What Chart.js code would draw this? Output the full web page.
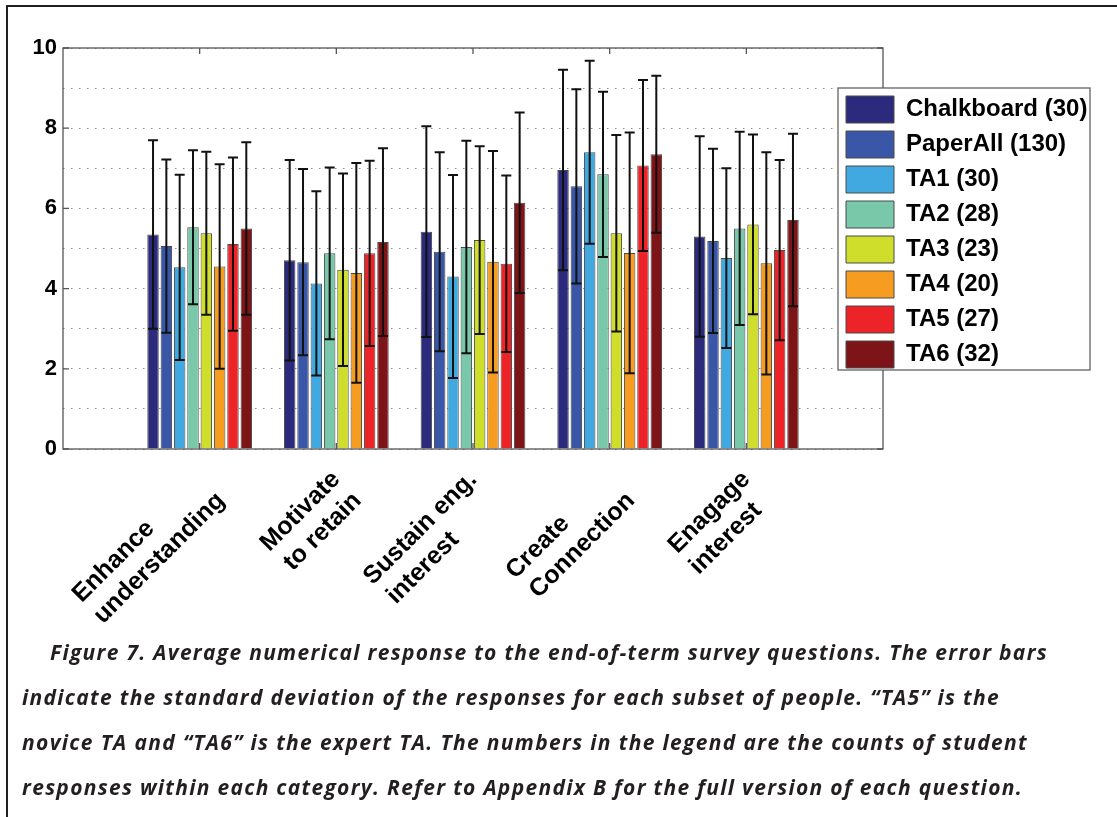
<!DOCTYPE html>
<html><head><meta charset="utf-8">
<script src="https://cdn.jsdelivr.net/npm/chart.js@4.4.1/dist/chart.umd.min.js"></script>
<style>
html,body{margin:0;padding:0;background:#fff;width:1117px;height:817px;overflow:hidden;}
#wrap{position:absolute;left:0;top:0;width:1117px;height:640px;}
#frameTop{position:absolute;left:6px;top:5px;width:1111px;height:2px;background:#231f20;}
#frameLeft{position:absolute;left:6px;top:5px;width:2px;height:812px;background:#231f20;}
#caption{position:absolute;left:0;top:0;font-family:"Open Sans",sans-serif;font-weight:700;font-style:italic;font-size:21px;color:#231f20;}
#caption div{position:absolute;white-space:nowrap;line-height:45px;height:45px;}
</style></head>
<body>
<div id="wrap"><canvas id="c"></canvas></div>
<div id="frameTop"></div><div id="frameLeft"></div>
<div id="caption"></div>
<script>
// ---------- data ----------
const categories = [
  ['Enhance', 'understanding'],
  ['Motivate', 'to retain'],
  ['Sustain eng.', 'interest'],
  ['Create', 'Connection'],
  ['Enagage', 'interest']
];
const seriesNames = ['Chalkboard (30)', 'PaperAll (130)', 'TA1 (30)', 'TA2 (28)', 'TA3 (23)', 'TA4 (20)', 'TA5 (27)', 'TA6 (32)'];
const seriesColors = ['#2b2a7d', '#3a57a7', '#41a9df', '#78c8a9', '#cfdd2b', '#f69d21', '#ec2327', '#7d1417'];

const chalkboard = [5.35, 4.71, 5.42, 6.96, 5.30];
const paperAll   = [5.06, 4.66, 4.92, 6.55, 5.19];
const ta1        = [4.53, 4.13, 4.30, 7.40, 4.76];
const ta2        = [5.53, 4.88, 5.04, 6.85, 5.50];
const ta3        = [5.38, 4.47, 5.21, 5.38, 5.60];
const ta4        = [4.55, 4.39, 4.67, 4.89, 4.63];
const ta5        = [5.11, 4.88, 4.62, 7.07, 4.96];
const ta6        = [5.50, 5.16, 6.14, 7.35, 5.71];

const chalkboardSd = [2.35, 2.50, 2.63, 2.50, 2.50];
const paperAllSd   = [2.16, 2.32, 2.48, 2.42, 2.30];
const ta1Sd        = [2.31, 2.30, 2.53, 2.28, 2.24];
const ta2Sd        = [1.92, 2.14, 2.65, 2.06, 2.41];
const ta3Sd        = [2.03, 2.40, 2.34, 2.45, 2.24];
const ta4Sd        = [2.55, 2.74, 2.76, 3.00, 2.77];
const ta5Sd        = [2.16, 2.31, 2.20, 2.13, 2.25];
const ta6Sd        = [2.15, 2.34, 2.25, 1.96, 2.15];

const yTickLabels = [0, 2, 4, 6, 8, 10];

const captionLines = [
  'Figure 7. Average numerical response to the end-of-term survey questions. The error bars',
  'indicate the standard deviation of the responses for each subset of people. \u201CTA5\u201D is the',
  'novice TA and \u201CTA6\u201D is the expert TA. The numbers in the legend are the counts of student',
  'responses within each category. Refer to Appendix B for the full version of each question.'
];

// ---------- build ----------
const means = [chalkboard, paperAll, ta1, ta2, ta3, ta4, ta5, ta6];
const sds = [chalkboardSd, paperAllSd, ta1Sd, ta2Sd, ta3Sd, ta4Sd, ta5Sd, ta6Sd];

const X_FONT = 'bold 25px "Liberation Sans", Arial, sans-serif';
const mctx = document.createElement('canvas').getContext('2d');
mctx.font = X_FONT;
function padLines(lines) {
  const w = lines.map(l => mctx.measureText(l).width);
  const maxW = Math.max(...w);
  const sp = mctx.measureText(' ').width;
  return lines.map((l, i) => l + ' '.repeat(Math.round((maxW - w[i]) / sp)));
}
// empty slots at both ends so that groups sit at 1..5 on a 0..6 range
const xLabels = [''].concat(categories.map(padLines), ['']);
const pad = arr => [null].concat(arr, [null]);

const datasets = seriesNames.map((name, i) => ({
  label: name,
  data: pad(means[i]),
  sd: pad(sds[i]),
  backgroundColor: seriesColors[i],
  borderColor: '#4a4a4a',
  borderWidth: 1,
  categoryPercentage: 0.78,
  barPercentage: 0.86
}));

const LEG_W = 252, LEG_H = 282;

const extras = {
  id: 'extras',
  afterLayout(chart) {
    const lg = chart.legend, ca = chart.chartArea;
    lg.left = ca.right - 45;
    lg.top = ca.top + 40;
    lg.width = LEG_W + 20;
    lg.height = LEG_H + 40;
    lg.right = lg.left + lg.width;
    lg.bottom = lg.top + lg.height;
  },
  afterDatasetsDraw(chart) {
    const {ctx, scales: {x, y}, chartArea: ca} = chart;
    ctx.save();
    // error bars
    ctx.strokeStyle = '#111';
    ctx.lineWidth = 2;
    chart.data.datasets.forEach((ds, i) => {
      const meta = chart.getDatasetMeta(i);
      meta.data.forEach((bar, j) => {
        const m = ds.data[j];
        if (m == null) return;
        const s = ds.sd[j];
        const yt = y.getPixelForValue(m + s), yb = y.getPixelForValue(m - s);
        const cx = bar.x, hw = 5;
        ctx.beginPath();
        ctx.moveTo(cx, yt); ctx.lineTo(cx, yb);
        ctx.moveTo(cx - hw, yt); ctx.lineTo(cx + hw, yt);
        ctx.moveTo(cx - hw, yb); ctx.lineTo(cx + hw, yb);
        ctx.stroke();
      });
    });
    // axes box
    ctx.strokeStyle = '#555';
    ctx.lineWidth = 1.3;
    ctx.strokeRect(ca.left, ca.top, ca.right - ca.left, ca.bottom - ca.top);
    // inward tick marks
    ctx.beginPath();
    yTickLabels.forEach(v => {
      const py = y.getPixelForValue(v);
      ctx.moveTo(ca.left, py); ctx.lineTo(ca.left + 6, py);
      ctx.moveTo(ca.right, py); ctx.lineTo(ca.right - 6, py);
    });
    for (let i = 1; i <= categories.length; i++) {
      const px = x.getPixelForTick(i);
      ctx.moveTo(px, ca.bottom); ctx.lineTo(px, ca.bottom - 6);
      ctx.moveTo(px, ca.top); ctx.lineTo(px, ca.top + 6);
    }
    ctx.stroke();
    ctx.restore();
  },
  afterDraw(chart) {
    const {ctx} = chart;
    const lg = chart.legend;
    ctx.save();
    ctx.fillStyle = '#fff';
    ctx.fillRect(lg.left, lg.top, LEG_W, LEG_H);
    ctx.strokeStyle = '#555';
    ctx.lineWidth = 1.2;
    ctx.strokeRect(lg.left, lg.top, LEG_W, LEG_H);
    ctx.restore();
    lg.draw();
  }
};

new Chart(document.getElementById('c'), {
  type: 'bar',
  data: { labels: xLabels, datasets },
  plugins: [extras],
  options: {
    responsive: true,
    maintainAspectRatio: false,
    animation: false,
    events: [],
    layout: { padding: { left: 0, top: 48, right: 234, bottom: 0 } },
    plugins: {
      legend: {
        position: 'chartArea',
        align: 'start',
        labels: {
          boxWidth: 48,
          boxHeight: 27,
          padding: 8,
          color: '#000',
          font: { family: '"Liberation Sans", Arial, sans-serif', size: 24, weight: 'bold' }
        }
      },
      tooltip: { enabled: false },
      title: { display: false }
    },
    scales: {
      x: {
        offset: false,
        grid: { display: false },
        border: { display: false },
        ticks: {
          autoSkip: false,
          maxRotation: 45,
          minRotation: 45,
          padding: 8,
          color: '#000',
          font: { family: '"Liberation Sans", Arial, sans-serif', size: 25, weight: 'bold' }
        },
        afterFit(scale) { scale.height = 191; }
      },
      y: {
        min: 0,
        max: 10,
        grid: { color: '#8c8c8c', lineWidth: 1, drawTicks: false },
        border: { display: false, dash: [1.5, 6.5] },
        ticks: {
          stepSize: 1,
          padding: 6,
          color: '#000',
          font: { family: '"Liberation Sans", Arial, sans-serif', size: 22, weight: 'bold' },
          callback: v => yTickLabels.includes(v) ? String(v) : ''
        },
        afterFit(scale) { scale.width = 63; }
      }
    }
  }
});

// caption
const cap = document.getElementById('caption');
const capLeft = [50, 22, 22, 22];
const capRight = [1048, 1000, 1028, 1023];
captionLines.forEach((t, i) => {
  const d = document.createElement('div');
  d.textContent = t;
  d.style.left = capLeft[i] + 'px';
  d.style.top = (630 + i * 45) + 'px';
  cap.appendChild(d);
  const natural = d.getBoundingClientRect().width;
  const target = capRight[i] - capLeft[i];
  d.style.letterSpacing = ((target - natural) / t.length) + 'px';
});
</script>
</body></html>
